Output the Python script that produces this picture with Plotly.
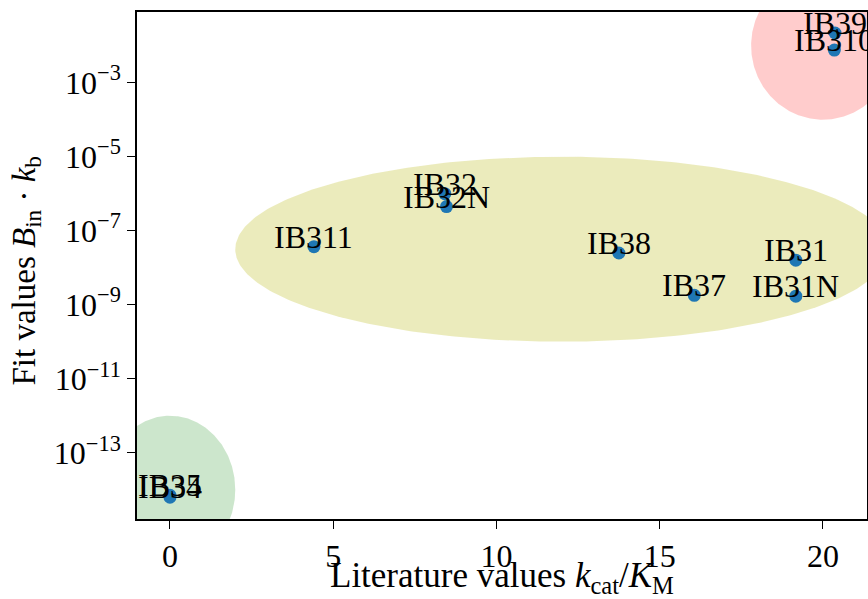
import numpy as np
import plotly.graph_objects as go

# ---- data ----
labels = ["IB39", "IB310", "IB35", "IB34", "IB311", "IB32", "IB32N",
          "IB38", "IB37", "IB31", "IB31N"]
lit_values = [20.37, 20.35, 0.0, 0.0, 4.41, 8.42, 8.47, 13.75, 16.06, 19.17, 19.17]
fit_values = [2.2e-2, 7.6e-3, 7.1e-15, 6.3e-15, 3.7e-8, 1.0e-6, 4.5e-7,
              2.5e-8, 1.8e-9, 1.6e-8, 1.7e-9]

# shaded group regions (centre x, centre log10 y, half-width x, half-height in decades)
ellipse_cx = [20.0, 12.0, 0.0]
ellipse_cly = [-2.0, -7.5, -14.0]
ellipse_rx = [2.2, 10.0, 2.0]
ellipse_rly = [2.0, 2.5, 2.0]
ellipse_colors = ["rgba(255,0,0,0.2)", "rgba(188,189,34,0.3)", "rgba(0,128,0,0.2)"]

x_ticks = [0, 5, 10, 15, 20]
y_exponents = [-13, -11, -9, -7, -5, -3]
y_tickvals = [10.0 ** e for e in y_exponents]
y_ticktext = ["10<sup>\u2212%d</sup>" % (-e) for e in y_exponents]

x_title = "Literature values <i>k</i><sub>cat</sub>/<i>K</i><sub>M</sub>"
y_title = "Fit values <i>B</i><sub>in</sub> \u00b7 <i>k</i><sub>b</sub>"

FONT = "Liberation Serif, DejaVu Serif, serif"

fig = go.Figure()

t = np.linspace(0, 2 * np.pi, 400)
for cx, cly, rx, rly, col in zip(ellipse_cx, ellipse_cly, ellipse_rx, ellipse_rly, ellipse_colors):
    fig.add_trace(go.Scatter(
        x=cx + rx * np.cos(t),
        y=10.0 ** (cly + rly * np.sin(t)),
        mode="lines", fill="toself", fillcolor=col,
        line=dict(width=0, color=col), hoverinfo="skip", showlegend=False))

fig.add_trace(go.Scatter(
    x=lit_values, y=fit_values, mode="markers",
    marker=dict(size=13, color="#1f77b4", line=dict(width=0)),
    showlegend=False, cliponaxis=False))

for lab, xv, yv in zip(labels, lit_values, fit_values):
    fig.add_annotation(x=xv, y=np.log10(yv), text=lab, showarrow=False,
                       xanchor="center", yanchor="bottom", yshift=-10,
                       font=dict(family=FONT, size=32, color="black"))

# axis titles placed as paper annotations
fig.add_annotation(xref="paper", yref="paper", x=0.5, y=0, yshift=-35,
                   xanchor="center", yanchor="top", showarrow=False, text=x_title,
                   font=dict(family=FONT, size=35, color="black"))
fig.add_annotation(xref="paper", yref="paper", x=0, y=0.5, xshift=-111, yshift=-6,
                   xanchor="center", yanchor="middle", textangle=-90, showarrow=False,
                   text=y_title, font=dict(family=FONT, size=33, color="black"))

axis_common = dict(showgrid=False, zeroline=False, showline=True, mirror=True,
                   linecolor="black", linewidth=1.5, ticks="outside", ticklen=8,
                   tickwidth=1.3, tickcolor="black", automargin=False,
                   tickfont=dict(family=FONT, size=32, color="black"))

fig.update_layout(
    width=868, height=599,
    margin=dict(l=137, r=1, t=12, b=80),
    paper_bgcolor="white", plot_bgcolor="white",
    xaxis=dict(range=[-1.01, 21.35], tickvals=x_ticks, **axis_common),
    yaxis=dict(type="log", range=[-14.79, -1.09], tickvals=y_tickvals, ticktext=y_ticktext,
               **axis_common),
)

fig.write_html("out.html", config={"displayModeBar": False},
               post_script="document.body.style.margin='0';document.body.style.overflow='hidden';")
